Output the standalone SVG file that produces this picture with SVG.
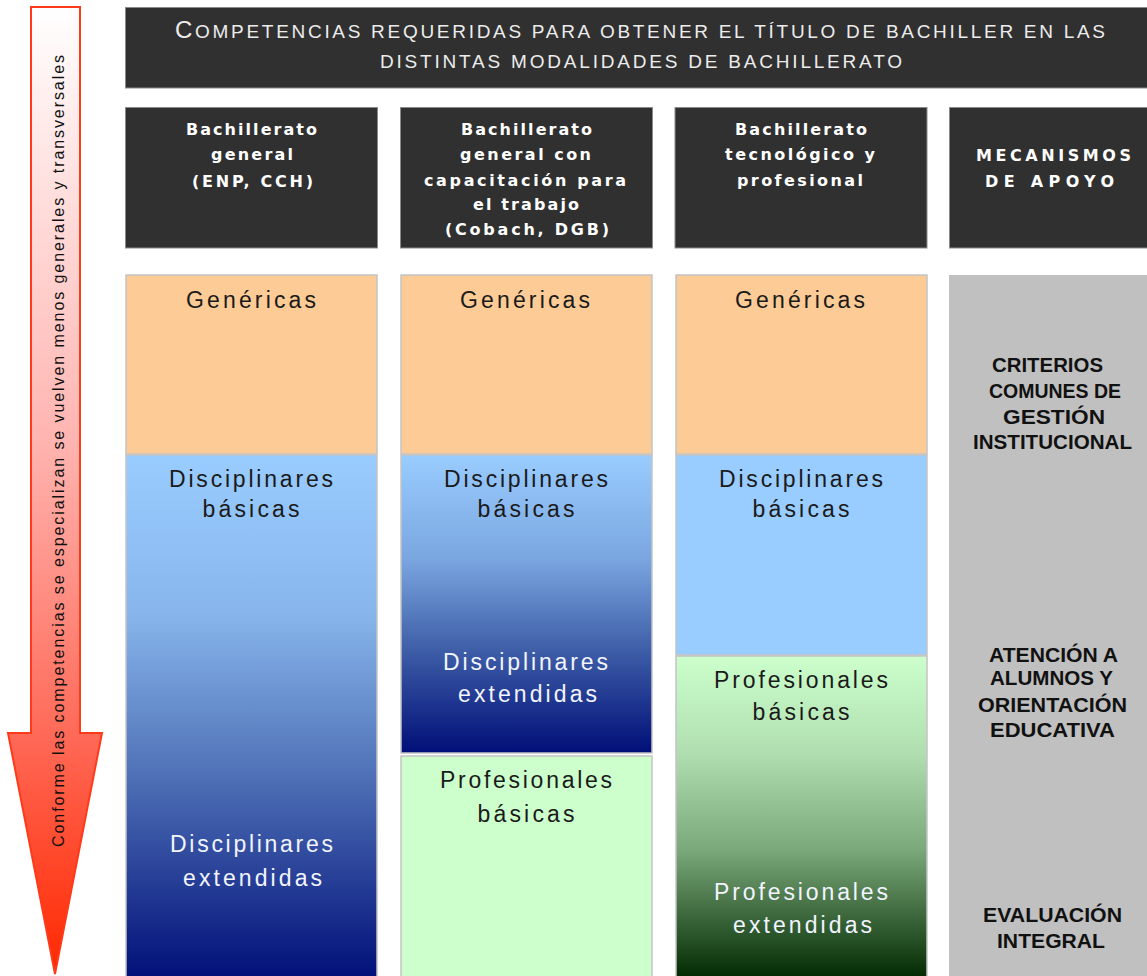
<svg xmlns="http://www.w3.org/2000/svg" width="1147" height="976" viewBox="0 0 1147 976">
<style>
.hdr{fill:#303030;stroke:#8a8a8a;stroke-width:1}
.ht{font-family:"DejaVu Sans","Liberation Sans",sans-serif;font-weight:bold;font-size:16px;fill:#ffffff;text-anchor:middle}
.tt{font-family:"Liberation Sans",Arial,sans-serif;font-size:19px;fill:#ececec;text-anchor:middle}
.lb{font-family:"Liberation Sans",Arial,sans-serif;font-size:23px;text-anchor:middle}
.dk{fill:#1a1a1a}
.wt{fill:#f2f4ff}
.box{stroke:#c4c4c4;stroke-width:1.5}
.mt{font-family:"Liberation Sans",Arial,sans-serif;font-weight:bold;font-size:20px;fill:#111;text-anchor:middle}
</style>
<defs>
<linearGradient id="gArrow" gradientUnits="userSpaceOnUse" x1="0" y1="7" x2="0" y2="975">
<stop offset="0" stop-color="#ffffff"/>
<stop offset="0.45" stop-color="#ffb4b0"/>
<stop offset="0.75" stop-color="#ff6a58"/>
<stop offset="1" stop-color="#ff2800"/>
</linearGradient>
<linearGradient id="gBlue1" x1="0" y1="0" x2="0" y2="1">
<stop offset="0" stop-color="#99ccff"/>
<stop offset="0.3" stop-color="#88b6ec"/>
<stop offset="0.6" stop-color="#5173b8"/>
<stop offset="1" stop-color="#000f78"/>
</linearGradient>
<linearGradient id="gBlue2" x1="0" y1="0" x2="0" y2="1">
<stop offset="0" stop-color="#99ccff"/>
<stop offset="0.35" stop-color="#7aa6e0"/>
<stop offset="0.65" stop-color="#3f5fa8"/>
<stop offset="1" stop-color="#000f78"/>
</linearGradient>
<linearGradient id="gGreen" x1="0" y1="0" x2="0" y2="1">
<stop offset="0" stop-color="#ccffcc"/>
<stop offset="0.3" stop-color="#b0deb0"/>
<stop offset="0.6" stop-color="#7aa87a"/>
<stop offset="1" stop-color="#002800"/>
</linearGradient>
</defs>
<rect width="1147" height="976" fill="#ffffff"/>

<g id="arrow">
<path d="M31,7 H80 V733 H102 L55,974 L8,733 H31 Z" fill="url(#gArrow)" stroke="#ff3a1a" stroke-width="2"/>
<text transform="translate(64,451) rotate(-90)" x="0" y="0" text-anchor="middle" textLength="792" lengthAdjust="spacing" style="font-family:'Liberation Sans',Arial,sans-serif;font-size:16px;fill:#111">Conforme las competencias se especializan se vuelven menos generales y transversales</text>
</g>

<g id="title">
<rect class="hdr" x="125.5" y="7.5" width="1030" height="80.5"/>
<text class="tt" x="640" y="38" textLength="930" lengthAdjust="spacing"><tspan font-size="24px">C</tspan>OMPETENCIAS REQUERIDAS PARA OBTENER EL TÍTULO DE BACHILLER EN LAS</text>
<text class="tt" x="641" y="68" textLength="522" lengthAdjust="spacing">DISTINTAS MODALIDADES DE BACHILLERATO</text>
</g>

<g id="col1-header">
<rect class="hdr" x="125.5" y="107.5" width="252" height="140.5"/>
<text class="ht" x="251.5" y="135" textLength="131" lengthAdjust="spacing">Bachillerato</text>
<text class="ht" x="252" y="160" textLength="82" lengthAdjust="spacing">general</text>
<text class="ht" x="252.5" y="187" textLength="121" lengthAdjust="spacing">(ENP, CCH)</text>
</g>
<g id="col2-header">
<rect class="hdr" x="400.5" y="107.5" width="252" height="140.5"/>
<text class="ht" x="526.5" y="135" textLength="131" lengthAdjust="spacing">Bachillerato</text>
<text class="ht" x="525.5" y="160" textLength="131" lengthAdjust="spacing">general con</text>
<text class="ht" x="525" y="186" textLength="202" lengthAdjust="spacing">capacitación para</text>
<text class="ht" x="526" y="210" textLength="106" lengthAdjust="spacing">el trabajo</text>
<text class="ht" x="527" y="235" textLength="164" lengthAdjust="spacing">(Cobach, DGB)</text>
</g>
<g id="col3-header">
<rect class="hdr" x="675" y="107.5" width="252" height="140.5"/>
<text class="ht" x="801" y="135" textLength="132" lengthAdjust="spacing">Bachillerato</text>
<text class="ht" x="800" y="160" textLength="150" lengthAdjust="spacing">tecnológico y</text>
<text class="ht" x="800" y="186" textLength="126" lengthAdjust="spacing">profesional</text>
</g>
<g id="col4-header">
<rect class="hdr" x="949.5" y="107.5" width="205" height="140.5"/>
<text class="ht" x="1053.5" y="161" textLength="155" lengthAdjust="spacing">MECANISMOS</text>
<text class="ht" x="1049.5" y="187" textLength="129" lengthAdjust="spacing">DE APOYO</text>
</g>

<g id="col1">
<rect class="box" x="126" y="275" width="251" height="179" fill="#fccb96"/>
<rect class="box" x="126" y="455" width="251" height="525" fill="url(#gBlue1)"/>
<text class="lb dk" x="251" y="308" textLength="130" lengthAdjust="spacing">Genéricas</text>
<text class="lb dk" x="251" y="487" textLength="164" lengthAdjust="spacing">Disciplinares</text>
<text class="lb dk" x="251" y="517" textLength="97" lengthAdjust="spacing">básicas</text>
<text class="lb wt" x="251.5" y="852" textLength="163" lengthAdjust="spacing">Disciplinares</text>
<text class="lb wt" x="252.5" y="886" textLength="139" lengthAdjust="spacing">extendidas</text>
</g>

<g id="col2">
<rect class="box" x="401" y="275" width="251" height="179" fill="#fccb96"/>
<rect class="box" x="401" y="455" width="251" height="298" fill="url(#gBlue2)"/>
<rect class="box" x="401" y="756" width="251" height="224" fill="#ccffcc"/>
<text class="lb dk" x="525" y="308" textLength="130" lengthAdjust="spacing">Genéricas</text>
<text class="lb dk" x="526" y="487" textLength="164" lengthAdjust="spacing">Disciplinares</text>
<text class="lb dk" x="526" y="517" textLength="97" lengthAdjust="spacing">básicas</text>
<text class="lb wt" x="525.5" y="670" textLength="165" lengthAdjust="spacing">Disciplinares</text>
<text class="lb wt" x="527.5" y="702" textLength="139" lengthAdjust="spacing">extendidas</text>
<text class="lb dk" x="526" y="788" textLength="172" lengthAdjust="spacing">Profesionales</text>
<text class="lb dk" x="526" y="822" textLength="97" lengthAdjust="spacing">básicas</text>
</g>

<g id="col3">
<rect class="box" x="676" y="275" width="251" height="179" fill="#fccb96"/>
<rect class="box" x="676" y="455" width="251" height="200" fill="#99ccff"/>
<rect class="box" x="676" y="656" width="251" height="324" fill="url(#gGreen)"/>
<text class="lb dk" x="800" y="308" textLength="130" lengthAdjust="spacing">Genéricas</text>
<text class="lb dk" x="801" y="487" textLength="164" lengthAdjust="spacing">Disciplinares</text>
<text class="lb dk" x="801" y="517" textLength="97" lengthAdjust="spacing">básicas</text>
<text class="lb dk" x="801" y="688" textLength="174" lengthAdjust="spacing">Profesionales</text>
<text class="lb dk" x="801" y="720" textLength="97" lengthAdjust="spacing">básicas</text>
<text class="lb wt" x="801" y="900" textLength="174" lengthAdjust="spacing">Profesionales</text>
<text class="lb wt" x="802.5" y="933" textLength="139" lengthAdjust="spacing">extendidas</text>
</g>

<g id="col4">
<rect x="949" y="275" width="200" height="705" fill="#c0c0c0"/>
<text class="mt" x="1047.5" y="372" textLength="111" lengthAdjust="spacingAndGlyphs">CRITERIOS</text>
<text class="mt" x="1055" y="398" textLength="132" lengthAdjust="spacingAndGlyphs">COMUNES DE</text>
<text class="mt" x="1054" y="424" textLength="102" lengthAdjust="spacingAndGlyphs">GESTIÓN</text>
<text class="mt" x="1052.5" y="449" textLength="159" lengthAdjust="spacingAndGlyphs">INSTITUCIONAL</text>
<text class="mt" x="1053.5" y="662" textLength="129" lengthAdjust="spacingAndGlyphs">ATENCIÓN A</text>
<text class="mt" x="1051.5" y="685" textLength="123" lengthAdjust="spacingAndGlyphs">ALUMNOS Y</text>
<text class="mt" x="1052.5" y="712" textLength="149" lengthAdjust="spacingAndGlyphs">ORIENTACIÓN</text>
<text class="mt" x="1052.5" y="737" textLength="125" lengthAdjust="spacingAndGlyphs">EDUCATIVA</text>
<text class="mt" x="1052.5" y="922" textLength="139" lengthAdjust="spacingAndGlyphs">EVALUACIÓN</text>
<text class="mt" x="1051" y="948" textLength="108" lengthAdjust="spacingAndGlyphs">INTEGRAL</text>
</g>
</svg>
